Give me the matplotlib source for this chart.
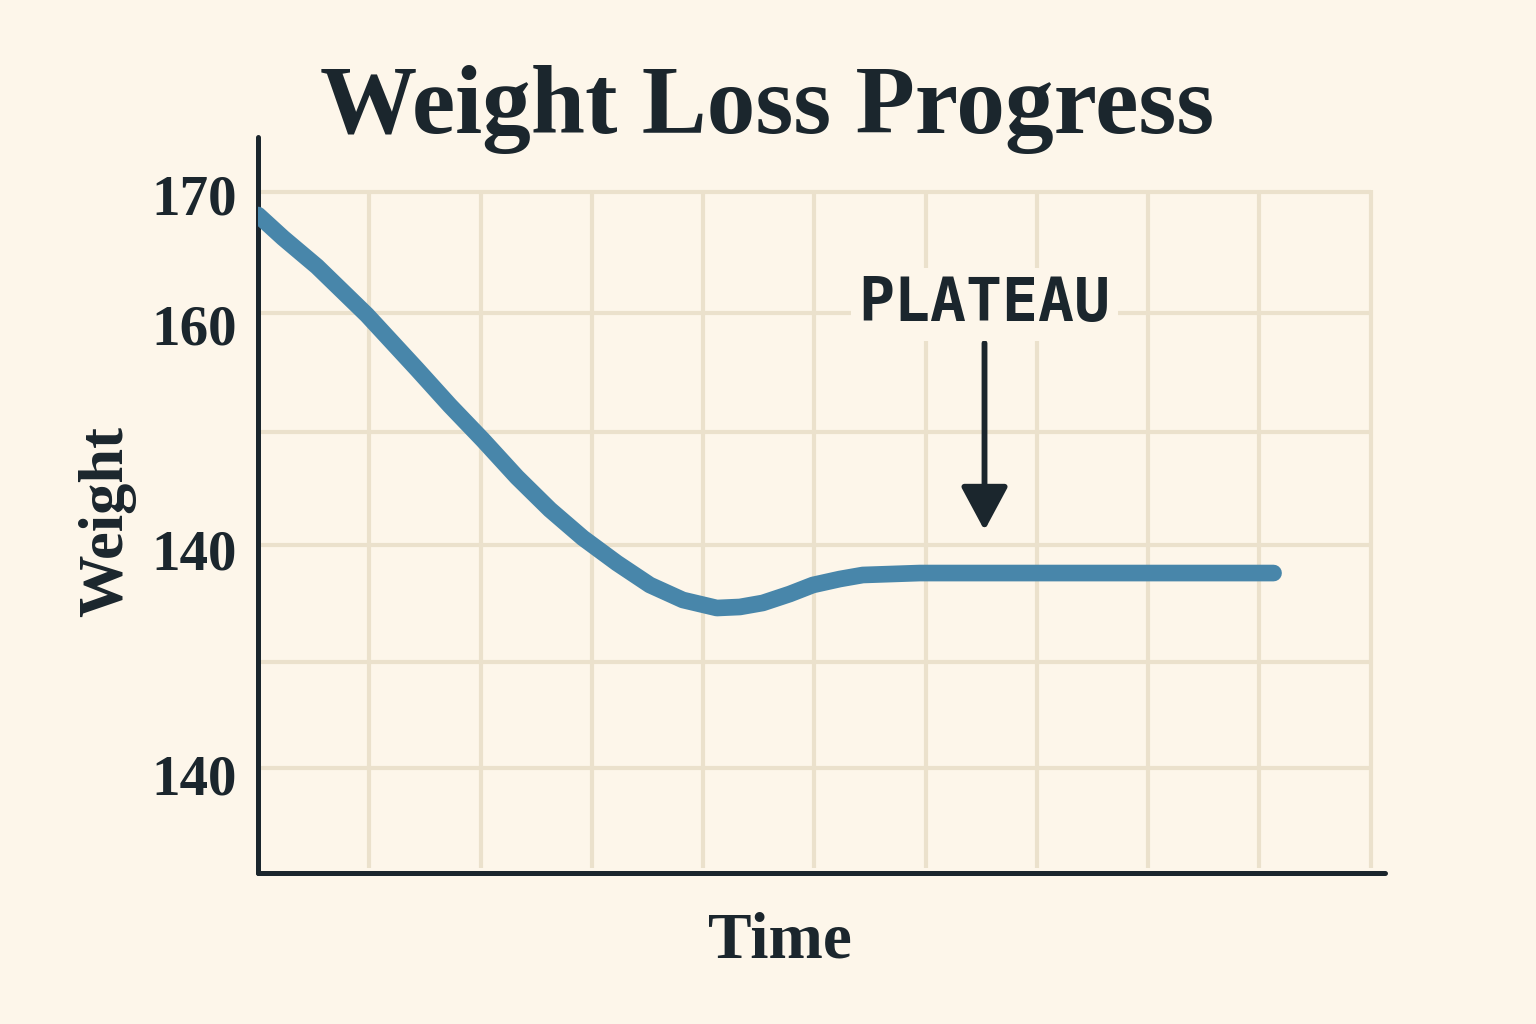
import matplotlib.pyplot as plt

# weight curve (time in grid columns, weight on the chart's own scale)
time = [0.0, 0.225, 0.53, 0.979, 1.429, 1.725, 2.022, 2.327, 2.624, 2.92, 3.226,
        3.522, 3.818, 4.124, 4.331, 4.537, 4.78, 4.987, 5.229, 5.436, 5.948, 9.128]
weight = [168.46, 166.7, 164.5, 160.77, 156.6, 153.8, 151.15, 148.3, 145.8, 143.62, 141.69,
          140.0, 138.85, 138.23, 138.31, 138.62, 139.31, 140.0, 140.46, 140.77, 140.92, 140.92]

ytick_pos = [170.0, 160.0, 142.7, 125.4]
ytick_labels = ["170", "160", "140", "140"]
grid_y = [170.2, 160.9, 151.8, 143.1, 134.1, 125.9]
grid_x = [1, 2, 3, 4, 5, 6, 7, 8, 9, 10]

bg = "#fdf6ea"
ink = "#1b262d"
gridc = "#ebe1cc"
blue = "#4886aa"

fig = plt.figure(figsize=(15.36, 10.24), dpi=100, facecolor=bg)
ax = fig.add_axes([0.168, 0.1475, 0.7337, 0.7187], facecolor=bg)
ax.set_xlim(0, 10.13)
ax.set_ylim(117.85, 174.46)

ax.hlines(grid_y, 0, 10, color=gridc, lw=3, zorder=1)
ax.vlines(grid_x, 118.2, 170.4, color=gridc, lw=3, zorder=1)

ax.plot(time, weight, color=blue, lw=12, solid_capstyle="round",
        solid_joinstyle="round", zorder=3)

ax.annotate("", xy=(6.53, 144.2), xytext=(6.53, 158.6),
            arrowprops=dict(arrowstyle="-|>,head_width=1.45,head_length=2.7",
                            mutation_scale=10, color=ink, lw=4.2,
                            shrinkA=0, shrinkB=0), zorder=4)
ax.text(6.53, 161.6, "PLATEAU", ha="center", va="center", fontsize=43,
        family="DejaVu Sans Mono", weight="bold", color=ink, zorder=4,
        bbox=dict(boxstyle="square,pad=0.12", fc=bg, ec="none"))

for side in ["top", "right"]:
    ax.spines[side].set_visible(False)
for side in ["left", "bottom"]:
    ax.spines[side].set_color(ink)
    ax.spines[side].set_linewidth(3.6)
    ax.spines[side].set_capstyle("round")

ax.set_xticks([])
ax.set_yticks(ytick_pos)
ax.set_yticklabels(ytick_labels, family="Liberation Serif", weight="bold",
                   fontsize=41, color=ink)
ax.tick_params(axis="y", length=0, pad=15)

ax.set_ylabel("Weight", family="Liberation Serif", weight="bold", fontsize=45,
              color=ink)
ax.yaxis.set_label_coords(-0.108, 0.4776)
ax.set_xlabel("Time", family="Liberation Serif", weight="bold", fontsize=47,
              color=ink)
ax.xaxis.set_label_coords(0.463, -0.052)

fig.text(0.4995, 0.87, "Weight Loss Progress", ha="center", va="baseline",
         family="Liberation Serif", weight="bold", fontsize=70, color=ink)

fig.savefig("out.png", dpi=100, facecolor=bg)
